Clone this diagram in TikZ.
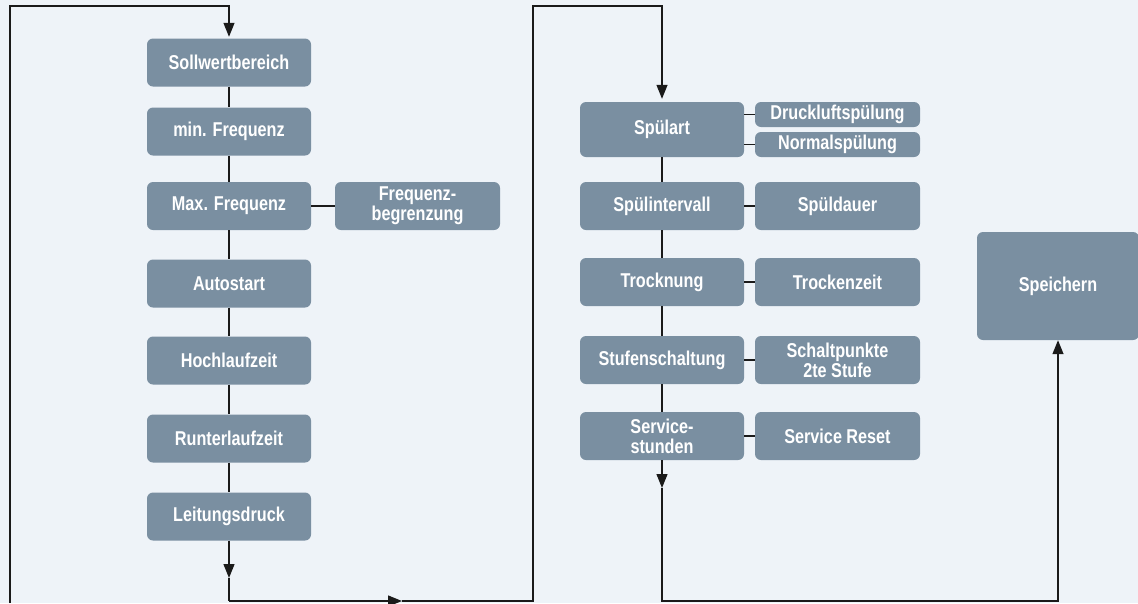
\documentclass[tikz,border=0pt]{standalone}
\usepackage{fontspec}
\setmainfont{Liberation Sans}[FakeStretch=0.81]
\usetikzlibrary{arrows.meta}
\definecolor{bg}{HTML}{EEF3F8}
\definecolor{boxc}{HTML}{7A8FA1}
\definecolor{linec}{HTML}{1A1A1A}
\begin{document}
\begin{tikzpicture}[x=1pt,y=-1pt,
 box/.style={fill=boxc, rounded corners=6pt, text=white, font=\fontsize{20}{20}\selectfont\bfseries, align=center, inner sep=0pt, minimum width=164pt, minimum height=48pt},
 sbox/.style={box, minimum height=25pt},
 conn/.style={draw=linec, line width=1.3pt},
 tip/.style={-{Triangle[length=14pt,width=11pt]}}]
\fill[bg] (0,0) rectangle (1138,603);
\useasboundingbox (0,0) rectangle (1138,603);
\clip (0,0) rectangle (1138,603);
% left column
\node[box] (sw) at (229,62.5) {Sollwertbereich};
\node[box] (minf) at (229,131.5) {min. Frequenz};
\node[box] (maxf) at (229,206) {Max. Frequenz};
\node[box] (auto) at (229,283.5) {Autostart};
\node[box] (hoch) at (229,360.5) {Hochlaufzeit};
\node[box] (runt) at (229,438.5) {Runterlaufzeit};
\node[box] (leit) at (229,516.5) {Leitungsdruck};
\node[box, minimum width=165pt] (freq) at (417.5,206) {Frequenz-\\begrenzung};
% right column
\node[box, minimum height=55pt] (spa) at (662,129.5) {Spülart};
\node[sbox, minimum width=165pt] (druck) at (837.5,114.5) {Druckluftspülung};
\node[sbox, minimum width=165pt] (norm) at (837.5,144.5) {Normalspülung};
\node[box] (spi) at (662,206) {Spülintervall};
\node[box, minimum width=165pt] (spd) at (837.5,206) {Spüldauer};
\node[box] (tro) at (662,282) {Trocknung};
\node[box, minimum width=165pt] (troz) at (837.5,282) {Trockenzeit};
\node[box] (stu) at (662,360) {Stufenschaltung};
\node[box, minimum width=165pt] (sch) at (837.5,360) {Schaltpunkte\\2te Stufe};
\node[box] (ser) at (662,436) {Service-\\stunden};
\node[box, minimum width=165pt] (res) at (837.5,436) {Service Reset};
\node[box, minimum width=162pt, minimum height=108pt] (spe) at (1058,286) {Speichern};
% coordinates
\coordinate (lb) at (10,603);
\coordinate (lt) at (10,6);
\coordinate (tt) at (229,6);
\coordinate (a1) at (229,578);
\coordinate (bl) at (229,601);
\coordinate (a2) at (402,601);
\coordinate (br) at (533,601);
\coordinate (mt) at (533,6);
\coordinate (rt) at (662,6);
\coordinate (a3) at (662,488);
\coordinate (rb) at (662,601);
\coordinate (sb) at (1058,601);
% connectors left
\draw[conn] (sw) -- (minf);
\draw[conn] (minf) -- (maxf);
\draw[conn] (maxf) -- (auto);
\draw[conn] (auto) -- (hoch);
\draw[conn] (hoch) -- (runt);
\draw[conn] (runt) -- (leit);
\draw[conn] (maxf) -- (freq);
\draw[conn,tip,shorten >=1.5pt] (lb) -- (lt) -- (tt) -- (sw.north);
\draw[conn,tip] (leit) -- (a1);
\draw[conn] (a1) -- (bl);
\draw[conn,tip] (bl) -- (a2);
\draw[conn,tip,shorten >=3pt] (a2) -- (br) -- (mt) -- (rt) -- (spa.north);
% connectors right
\draw[conn] (spa) -- (spi);
\draw[conn] (spi) -- (tro);
\draw[conn] (tro) -- (stu);
\draw[conn] (stu) -- (ser);
\draw[conn] (spa.east |- druck) -- (druck.west);
\draw[conn] (spa.east |- norm) -- (norm.west);
\draw[conn] (spi) -- (spd);
\draw[conn] (tro) -- (troz);
\draw[conn] (stu) -- (sch);
\draw[conn] (ser) -- (res);
\draw[conn,tip] (ser) -- (a3);
\draw[conn,tip] (a3) -- (rb) -- (sb) -- (spe.south);
\end{tikzpicture}
\end{document}
